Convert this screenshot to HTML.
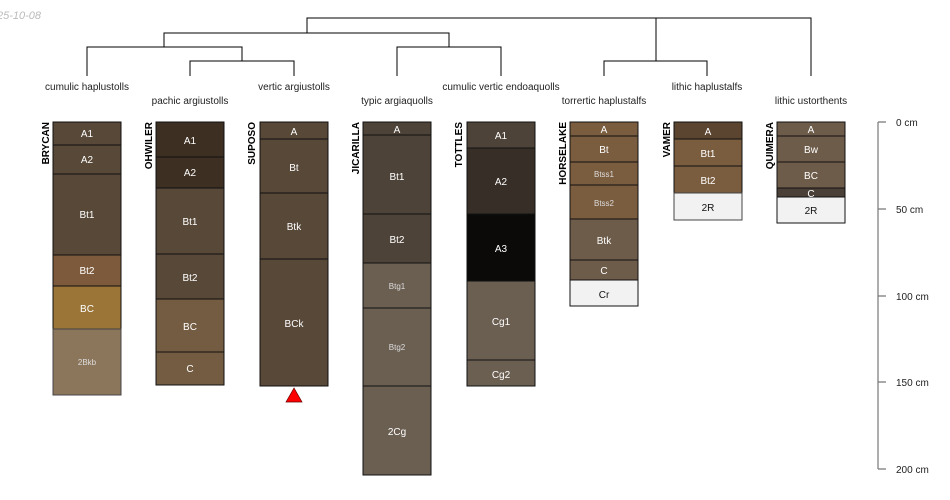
<!DOCTYPE html>
<html><head><meta charset="utf-8"><style>
html,body{margin:0;padding:0;background:#fff;}
svg{display:block;font-family:"Liberation Sans",sans-serif;}
.h{stroke:#111;stroke-width:1;}
.t{fill:#fff;font-size:10px;text-anchor:middle;}
.s{fill:#ddd;font-size:8px;text-anchor:middle;}
.d{fill:#111;font-size:10px;text-anchor:middle;}
.n{fill:#000;font-size:10px;font-weight:bold;}
.c{fill:#222;font-size:10px;text-anchor:middle;}
.dl{stroke:#000;stroke-width:1;fill:none;}
</style></head><body>
<svg width="950" height="500" viewBox="0 0 950 500">
<text x="-3" y="19" font-size="11" font-style="italic" fill="#bbb">25-10-08</text>
<!-- dendrogram -->
<g class="dl">
<path d="M307 33V18H811V76"/>
<path d="M656 18V61"/>
<path d="M164 47V33H449V47"/>
<path d="M87 76V47H242V61"/>
<path d="M190 76V61H294V76"/>
<path d="M397 76V47H501V76"/>
<path d="M604 76V61H707V76"/>
</g>
<g class="c">
<text x="87" y="90">cumulic haplustolls</text>
<text x="190" y="104">pachic argiustolls</text>
<text x="294" y="90">vertic argiustolls</text>
<text x="397" y="104">typic argiaquolls</text>
<text x="501" y="90">cumulic vertic endoaquolls</text>
<text x="604" y="104">torrertic haplustalfs</text>
<text x="707" y="90">lithic haplustalfs</text>
<text x="811" y="104">lithic ustorthents</text>
</g>
<!-- names -->
<g class="n">
<text transform="translate(49,122) rotate(-90)" text-anchor="end">BRYCAN</text>
<text transform="translate(152,122) rotate(-90)" text-anchor="end">OHWILER</text>
<text transform="translate(255,122) rotate(-90)" text-anchor="end">SUPOSO</text>
<text transform="translate(359,122) rotate(-90)" text-anchor="end">JICARILLA</text>
<text transform="translate(462,122) rotate(-90)" text-anchor="end">TOTTLES</text>
<text transform="translate(566,122) rotate(-90)" text-anchor="end">HORSELAKE</text>
<text transform="translate(670,122) rotate(-90)" text-anchor="end">VAMER</text>
<text transform="translate(773,122) rotate(-90)" text-anchor="end">QUIMERA</text>
</g>
<!-- BRYCAN -->
<g class="h">
<rect x="53" y="122" width="68" height="23" fill="#574838"/>
<rect x="53" y="145" width="68" height="29" fill="#574838"/>
<rect x="53" y="174" width="68" height="81" fill="#574838"/>
<rect x="53" y="255" width="68" height="31" fill="#7d5a3c"/>
<rect x="53" y="286" width="68" height="43" fill="#9a7537"/>
<rect x="53" y="329" width="68" height="66" fill="#8c765b" stroke="#444"/>
</g>
<text class="t" x="87" y="137">A1</text><text class="t" x="87" y="163">A2</text><text class="t" x="87" y="218">Bt1</text><text class="t" x="87" y="274">Bt2</text><text class="t" x="87" y="312">BC</text><text class="s" x="87" y="365">2Bkb</text>
<!-- OHWILER -->
<g class="h">
<rect x="156" y="122" width="68" height="35" fill="#3d2f22"/>
<rect x="156" y="157" width="68" height="31" fill="#3d2f22"/>
<rect x="156" y="188" width="68" height="66" fill="#574838"/>
<rect x="156" y="254" width="68" height="45" fill="#574838"/>
<rect x="156" y="299" width="68" height="53" fill="#735c41"/>
<rect x="156" y="352" width="68" height="33" fill="#735c41"/>
</g>
<text class="t" x="190" y="144">A1</text><text class="t" x="190" y="176">A2</text><text class="t" x="190" y="225">Bt1</text><text class="t" x="190" y="281">Bt2</text><text class="t" x="190" y="330">BC</text><text class="t" x="190" y="372">C</text>
<!-- SUPOSO -->
<g class="h">
<rect x="260" y="122" width="68" height="17" fill="#574838"/>
<rect x="260" y="139" width="68" height="54" fill="#574838"/>
<rect x="260" y="193" width="68" height="66" fill="#574838"/>
<rect x="260" y="259" width="68" height="127" fill="#574838"/>
</g>
<text class="t" x="294" y="135">A</text><text class="t" x="294" y="171">Bt</text><text class="t" x="294" y="230">Btk</text><text class="t" x="294" y="327">BCk</text>
<polygon points="294,388 286,402 302,402" fill="#f00" stroke="#600" stroke-width="0.7"/>
<!-- JICARILLA -->
<g class="h">
<rect x="363" y="122" width="68" height="13" fill="#4d4338"/>
<rect x="363" y="135" width="68" height="79" fill="#4d4338"/>
<rect x="363" y="214" width="68" height="49" fill="#4d4338"/>
<rect x="363" y="263" width="68" height="45" fill="#6b5f52"/>
<rect x="363" y="308" width="68" height="78" fill="#6b5f52"/>
<rect x="363" y="386" width="68" height="89" fill="#6b5f52"/>
</g>
<text class="t" x="397" y="133">A</text><text class="t" x="397" y="180">Bt1</text><text class="t" x="397" y="243">Bt2</text><text class="s" x="397" y="289">Btg1</text><text class="s" x="397" y="350">Btg2</text><text class="t" x="397" y="435">2Cg</text>
<!-- TOTTLES -->
<g class="h">
<rect x="467" y="122" width="68" height="26" fill="#4d4338"/>
<rect x="467" y="148" width="68" height="66" fill="#372e28"/>
<rect x="467" y="214" width="68" height="67" fill="#0b0a09"/>
<rect x="467" y="281" width="68" height="79" fill="#6b5f52"/>
<rect x="467" y="360" width="68" height="26" fill="#6b5f52"/>
</g>
<text class="t" x="501" y="139">A1</text><text class="t" x="501" y="185">A2</text><text class="t" x="501" y="252">A3</text><text class="t" x="501" y="325">Cg1</text><text class="t" x="501" y="378">Cg2</text>
<!-- HORSELAKE -->
<g class="h">
<rect x="570" y="122" width="68" height="14" fill="#7a5c3e"/>
<rect x="570" y="136" width="68" height="26" fill="#7a5c3e"/>
<rect x="570" y="162" width="68" height="23" fill="#7a5c3e"/>
<rect x="570" y="185" width="68" height="34" fill="#7a5c3e"/>
<rect x="570" y="219" width="68" height="41" fill="#6e5c4a"/>
<rect x="570" y="260" width="68" height="20" fill="#6e5c4a"/>
<rect x="570" y="280" width="68" height="26" fill="#f2f2f2"/>
</g>
<text class="t" x="604" y="133">A</text><text class="t" x="604" y="153">Bt</text><text class="s" x="604" y="177">Btss1</text><text class="s" x="604" y="206">Btss2</text><text class="t" x="604" y="244">Btk</text><text class="t" x="604" y="274">C</text><text class="d" x="604" y="298">Cr</text>
<!-- VAMER -->
<g class="h">
<rect x="674" y="122" width="68" height="17" fill="#5c4530"/>
<rect x="674" y="139" width="68" height="27" fill="#7a5c3e"/>
<rect x="674" y="166" width="68" height="27" fill="#7a5c3e"/>
<rect x="674" y="193" width="68" height="27" fill="#f2f2f2" stroke="#444"/>
</g>
<text class="t" x="708" y="135">A</text><text class="t" x="708" y="157">Bt1</text><text class="t" x="708" y="184">Bt2</text><text class="d" x="708" y="211">2R</text>
<!-- QUIMERA -->
<g class="h">
<rect x="777" y="122" width="68" height="14" fill="#6e5c4a"/>
<rect x="777" y="136" width="68" height="26" fill="#6e5c4a"/>
<rect x="777" y="162" width="68" height="26" fill="#6e5c4a"/>
<rect x="777" y="188" width="68" height="9" fill="#4a4038"/>
<rect x="777" y="197" width="68" height="26" fill="#f2f2f2"/>
</g>
<text class="t" x="811" y="133">A</text><text class="t" x="811" y="153">Bw</text><text class="t" x="811" y="179">BC</text><text class="t" x="811" y="197" font-size="9">C</text><text class="d" x="811" y="214">2R</text>
<!-- axis -->
<g stroke="#777" stroke-width="1.2" fill="none">
<path d="M878 122V469"/>
<path d="M878 122H886M878 209H886M878 296H886M878 382H886M878 469H886"/>
</g>
<g font-size="10" fill="#222">
<text x="896" y="126">0 cm</text>
<text x="896" y="213">50 cm</text>
<text x="896" y="300">100 cm</text>
<text x="896" y="386">150 cm</text>
<text x="896" y="473">200 cm</text>
</g>
</svg>
</body></html>
